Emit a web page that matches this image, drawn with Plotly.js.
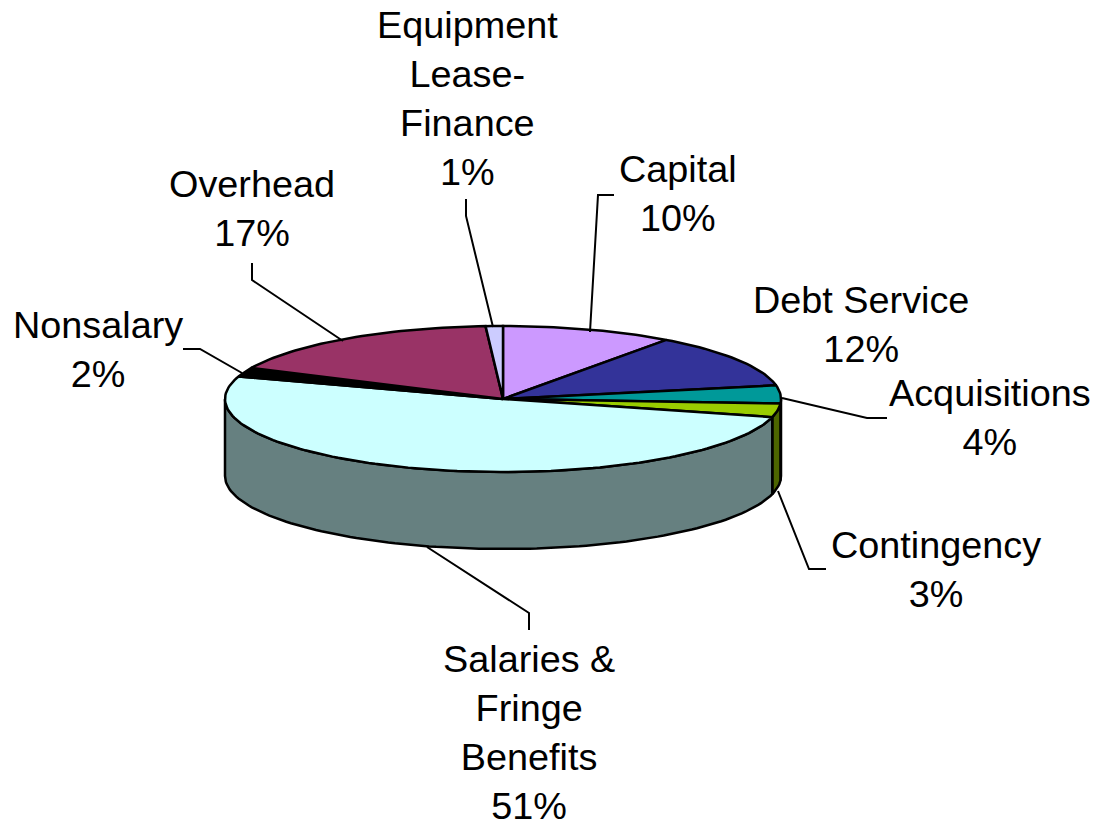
<!DOCTYPE html>
<html>
<head>
<meta charset="utf-8">
<script src="https://cdn.plot.ly/plotly-3.0.1.min.js"></script>
<style>html,body{margin:0;padding:0;background:#fff}#chart{width:1097px;height:822px}</style>
</head>
<body>
<div id="chart"></div>
<script>
// Data, clockwise from 12 o'clock
var categories = ['Capital', 'Debt Service', 'Acquisitions', 'Contingency', 'Salaries & Fringe Benefits', 'Nonsalary', 'Overhead', 'Equipment Lease-Finance'];
var percents = [10, 12, 4, 3, 51, 2, 17, 1];
var topColors = ['#CC99FF', '#333399', '#009999', '#99CC00', '#CCFFFF', '#000000', '#993366', '#CCCCFF'];
var sideColors = ['#664D80', '#1A1A4D', '#004D4D', '#4D6600', '#668080', '#000000', '#4D1A33', '#666680'];
var labelLines = ['Capital', 'Debt Service', 'Acquisitions', 'Contingency', 'Salaries &<br>Fringe<br>Benefits', 'Nonsalary', 'Overhead', 'Equipment<br>Lease-<br>Finance'];
var labelX = [678, 861, 990, 936, 529, 98, 252, 467];
var labelY = [193, 324, 417, 569, 732, 349, 208, 98];
var leaderX = [[590, 598, 614], null, [782, 867, 887], [778, 809, 826], [427, 529, 529], [242, 200, 183], [343, 252, 252], [493, 466, 466]];
var leaderY = [[332, 195, 195], null, [398, 418, 418], [491, 569, 569], [547, 613, 630], [373, 349, 349], [341, 280, 263], [327, 216, 199]];

// Pie projection in axis units
var cx = 503, cy = 399, rx = 278, ry = 73, depth = 77;

function px(deg) { return cx + rx * Math.sin(deg * Math.PI / 180); }
function py(deg, dz) { return cy - ry * Math.cos(deg * Math.PI / 180) + (dz || 0); }
function arc(a, b, dz) {
  var xs = [], ys = [], n = Math.max(2, Math.ceil(Math.abs(b - a) / 1.5));
  for (var i = 0; i <= n; i++) {
    var d = a + (b - a) * i / n;
    xs.push(px(d)); ys.push(py(d, dz));
  }
  return {x: xs, y: ys};
}

var traces = [];
var starts = [], acc = 0;
percents.forEach(function (p) { starts.push(acc); acc += p; });

// Side walls (only the front half of the rim is visible)
percents.forEach(function (p, i) {
  var a = Math.max(starts[i] * 3.6, 90), b = Math.min((starts[i] + p) * 3.6, 270);
  if (b <= a) return;
  var t = arc(a, b, 0), u = arc(b, a, depth);
  traces.push({
    type: 'scatter', mode: 'lines', name: categories[i] + ' side', fill: 'toself', fillcolor: sideColors[i],
    x: t.x.concat(u.x, [t.x[0]]), y: t.y.concat(u.y, [t.y[0]]),
    line: {color: '#000', width: 2.5}, hoverinfo: 'skip'
  });
});

// Top faces
percents.forEach(function (p, i) {
  var t = arc(starts[i] * 3.6, (starts[i] + p) * 3.6, 0);
  traces.push({
    type: 'scatter', mode: 'lines', name: categories[i], fill: 'toself', fillcolor: topColors[i],
    x: [cx].concat(t.x, [cx]), y: [cy].concat(t.y, [cy]),
    line: {color: '#000', width: 2.5}, hoverinfo: 'skip'
  });
});

// Leader lines
leaderX.forEach(function (lx, i) {
  if (!lx) return;
  traces.push({
    type: 'scatter', mode: 'lines', name: categories[i] + ' leader',
    x: lx, y: leaderY[i], line: {color: '#000', width: 2}, hoverinfo: 'skip'
  });
});

var annotations = categories.map(function (c, i) {
  return {
    x: labelX[i], y: labelY[i], xref: 'x', yref: 'y', xanchor: 'center', yanchor: 'middle',
    text: labelLines[i] + '<br>' + percents[i] + '%', showarrow: false, align: 'center',
    font: {family: 'Liberation Sans, Arial, sans-serif', size: 37.8, color: '#000'}
  };
});

Plotly.newPlot('chart', traces, {
  width: 1097, height: 822,
  margin: {l: 0, r: 0, t: 0, b: 0},
  paper_bgcolor: '#fff', plot_bgcolor: '#fff',
  showlegend: false,
  xaxis: {range: [0, 1097], visible: false, fixedrange: true},
  yaxis: {range: [822, 0], visible: false, fixedrange: true},
  annotations: annotations
}, {displayModeBar: false, staticPlot: true});
</script>
</body>
</html>
